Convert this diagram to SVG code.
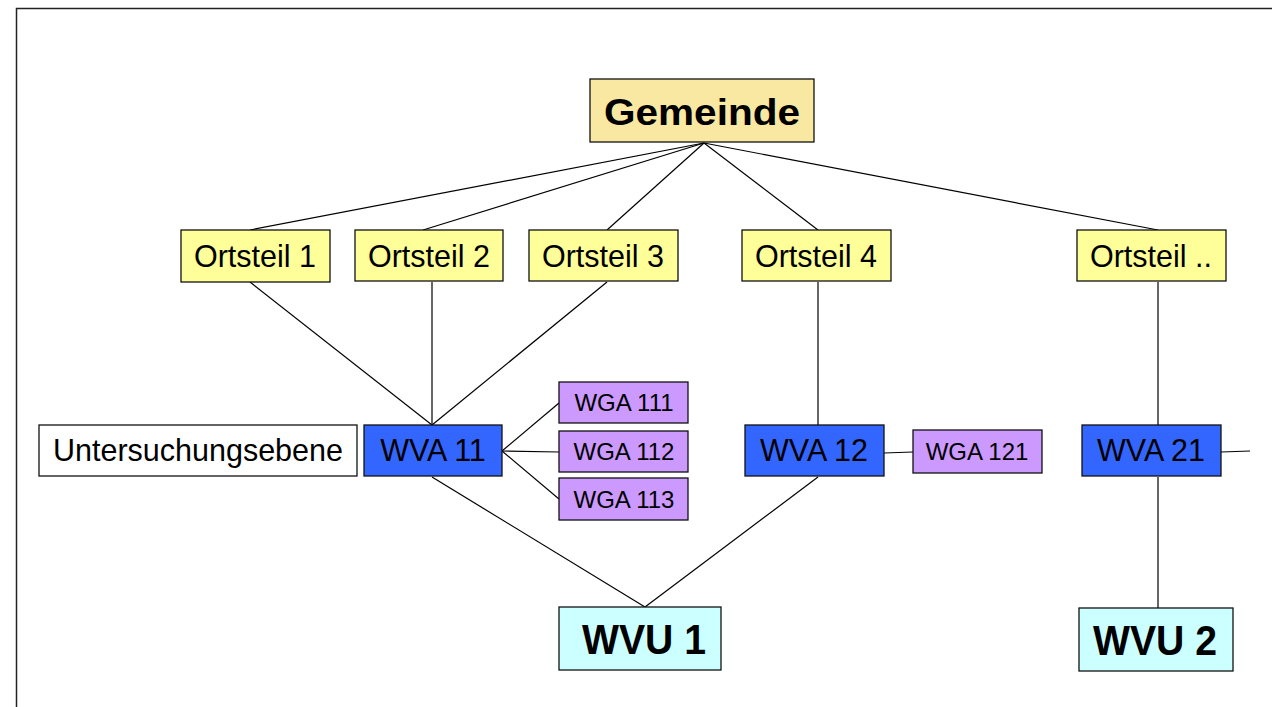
<svg xmlns="http://www.w3.org/2000/svg" width="1272" height="707" viewBox="0 0 1272 707">
<style>
.box{stroke:#111;stroke-width:1.3}
.gem{fill:#F8E8A2}
.ort{fill:#FFFF99}
.wva{fill:#3366FF}
.wga{fill:#CC99FF}
.wvu{fill:#CCFFFF}
.wht{fill:#FFFFFF}
text{font-family:"Liberation Sans",Arial,sans-serif;fill:#000;text-anchor:middle}
.t29{font-size:30.5px}
.t22{font-size:24px}
.b{font-weight:bold}
#connectors line{stroke:#000;stroke-width:1.2}
</style>
<rect width="1272" height="707" fill="#fff"/>
<path d="M16.5 707 V8.5 H1272" fill="none" stroke="#222" stroke-width="1.5"/>
<g id="connectors">
<line x1="704" y1="143" x2="250" y2="230"/>
<line x1="704" y1="143" x2="423" y2="230"/>
<line x1="704" y1="143" x2="607" y2="230"/>
<line x1="704" y1="143" x2="818" y2="230"/>
<line x1="704" y1="143" x2="1158" y2="230"/>
<line x1="250" y1="282" x2="432" y2="425"/>
<line x1="432" y1="282" x2="432" y2="425"/>
<line x1="607" y1="282" x2="432" y2="425"/>
<line x1="818" y1="282" x2="818" y2="425"/>
<line x1="1158" y1="282" x2="1158" y2="425"/>
<line x1="432" y1="477" x2="645" y2="607"/>
<line x1="818" y1="477" x2="645" y2="607"/>
<line x1="1158" y1="477" x2="1158" y2="608"/>
<line x1="502" y1="451" x2="559" y2="403"/>
<line x1="502" y1="451" x2="559" y2="452"/>
<line x1="502" y1="451" x2="559" y2="499"/>
<line x1="884" y1="453" x2="913" y2="452"/>
<line x1="1221" y1="452" x2="1250" y2="451"/>
</g>
<g id="gemeinde"><rect class="box gem" x="590" y="79" width="224" height="63"/><text class="b" x="702" y="125" font-size="36" textLength="196" lengthAdjust="spacingAndGlyphs">Gemeinde</text></g>
<g id="ortsteil1"><rect class="box ort" x="181" y="230" width="149" height="52"/><text class="t29" x="255" y="267">Ortsteil 1</text></g>
<g id="ortsteil2"><rect class="box ort" x="355" y="230" width="148" height="51"/><text class="t29" x="429" y="267">Ortsteil 2</text></g>
<g id="ortsteil3"><rect class="box ort" x="529" y="230" width="149" height="51"/><text class="t29" x="603" y="267">Ortsteil 3</text></g>
<g id="ortsteil4"><rect class="box ort" x="742" y="230" width="149" height="51"/><text class="t29" x="816" y="267">Ortsteil 4</text></g>
<g id="ortsteilx"><rect class="box ort" x="1077" y="230" width="149" height="51"/><text class="t29" x="1151" y="267">Ortsteil ..</text></g>
<g id="untersuchungsebene"><rect class="box wht" x="39" y="425" width="318" height="51"/><text class="t29" x="198" y="461">Untersuchungsebene</text></g>
<g id="wva11"><rect class="box wva" x="364" y="425" width="138" height="51"/><text class="t29" x="433" y="461">WVA 11</text></g>
<g id="wga111"><rect class="box wga" x="559" y="382" width="129" height="41"/><text class="t22" x="624" y="411">WGA 111</text></g>
<g id="wga112"><rect class="box wga" x="559" y="431" width="129" height="41"/><text class="t22" x="624" y="460">WGA 112</text></g>
<g id="wga113"><rect class="box wga" x="559" y="478" width="129" height="42"/><text class="t22" x="624" y="508">WGA 113</text></g>
<g id="wva12"><rect class="box wva" x="745" y="425" width="139" height="51"/><text class="t29" x="814" y="461">WVA 12</text></g>
<g id="wga121"><rect class="box wga" x="913" y="430" width="129" height="43"/><text class="t22" x="977" y="460">WGA 121</text></g>
<g id="wva21"><rect class="box wva" x="1082" y="425" width="139" height="51"/><text class="t29" x="1151" y="461">WVA 21</text></g>
<g id="wvu1"><rect class="box wvu" x="559" y="607" width="162" height="63"/><text class="b" x="644" y="654" font-size="42" textLength="124" lengthAdjust="spacingAndGlyphs">WVU 1</text></g>
<g id="wvu2"><rect class="box wvu" x="1079" y="608" width="154" height="63"/><text class="b" x="1155" y="655" font-size="42" textLength="124" lengthAdjust="spacingAndGlyphs">WVU 2</text></g>
</svg>
